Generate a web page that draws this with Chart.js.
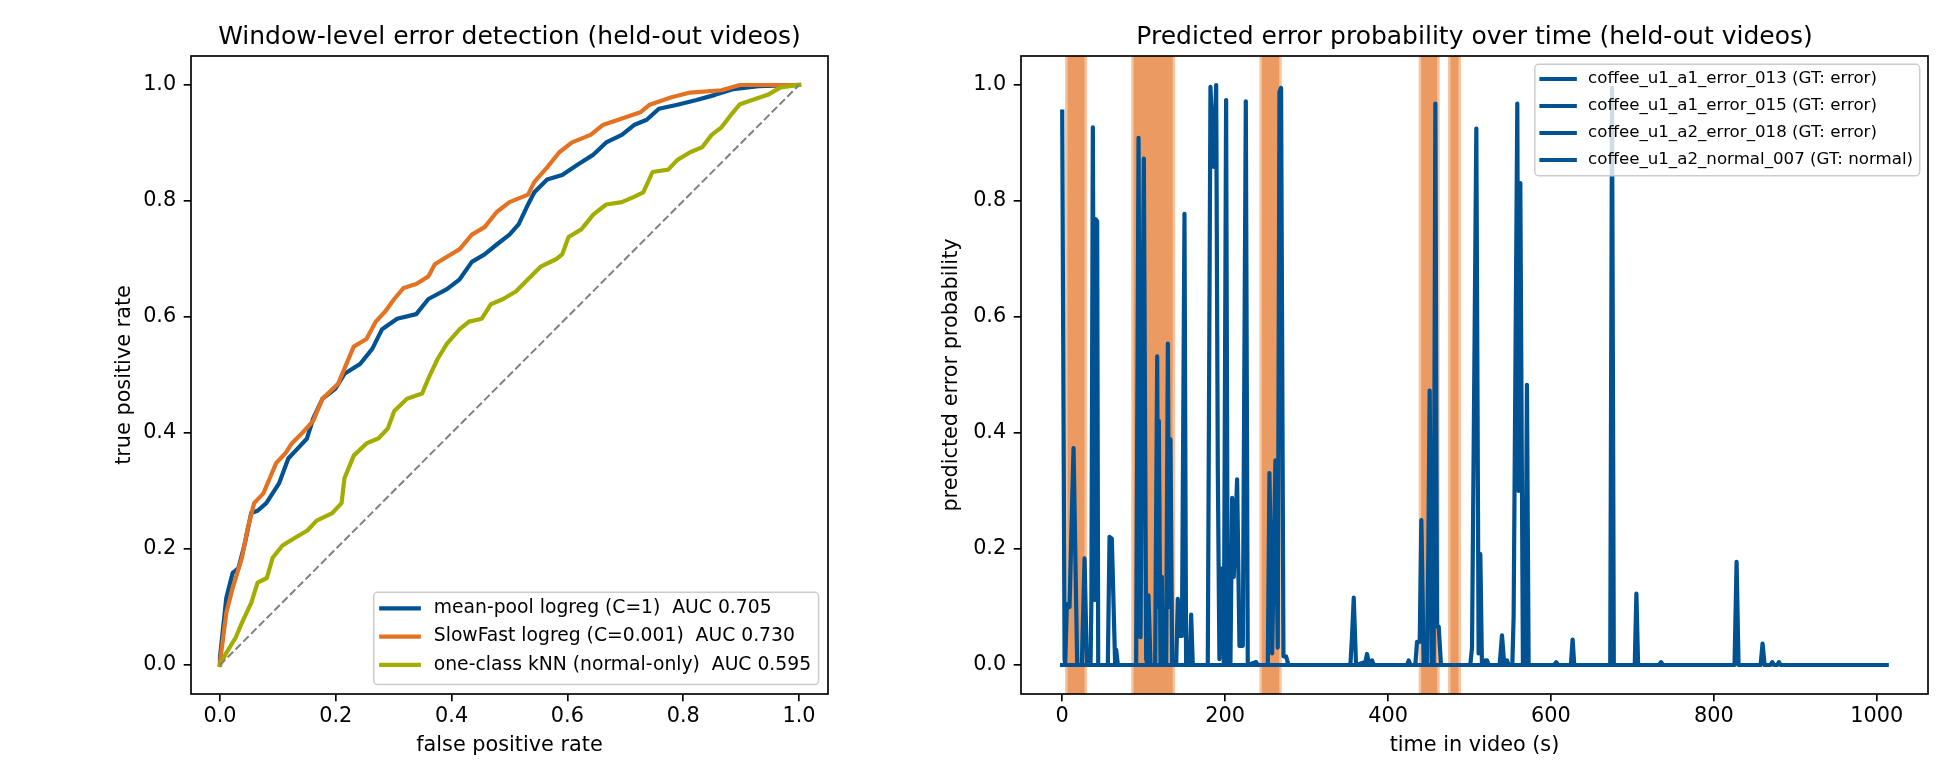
<!DOCTYPE html>
<html>
<head>
<meta charset="utf-8">
<script src="https://cdn.jsdelivr.net/npm/chart.js@4.4.1/dist/chart.umd.min.js"></script>
<style>
  html, body { margin: 0; padding: 0; background: #fff; }
  body { width: 1950px; height: 780px; position: relative; overflow: hidden; }
  canvas { position: absolute; top: 0; }
  #roc { left: 0; }
  #prob { left: 900px; }
</style>
</head>
<body>
<canvas id="roc" width="900" height="780"></canvas>
<canvas id="prob" width="1050" height="780"></canvas>
<script>
// ---- ROC curves, [fpr, tpr] ----
const MEANPOOL_ROC = [[0,0],[0,0.013],[0.011,0.116],[0.022,0.159],[0.032,0.167],[0.043,0.21],[0.054,0.262],[0.065,0.266],[0.08,0.279],[0.102,0.313],[0.118,0.356],[0.134,0.373],[0.15,0.39],[0.161,0.425],[0.177,0.459],[0.199,0.476],[0.215,0.502],[0.242,0.519],[0.263,0.545],[0.28,0.579],[0.306,0.597],[0.339,0.605],[0.36,0.631],[0.392,0.648],[0.414,0.665],[0.435,0.695],[0.457,0.708],[0.478,0.725],[0.5,0.742],[0.516,0.76],[0.532,0.794],[0.543,0.815],[0.565,0.837],[0.591,0.845],[0.618,0.863],[0.645,0.88],[0.667,0.901],[0.694,0.914],[0.715,0.931],[0.737,0.94],[0.758,0.959],[0.79,0.966],[0.823,0.974],[0.855,0.983],[0.887,0.993],[0.93,0.998],[1,1]];
const SLOWFAST_ROC = [[0,0],[0,0.004],[0.011,0.09],[0.022,0.133],[0.038,0.185],[0.048,0.236],[0.059,0.279],[0.075,0.296],[0.086,0.322],[0.097,0.348],[0.113,0.365],[0.124,0.382],[0.145,0.403],[0.161,0.421],[0.177,0.459],[0.204,0.485],[0.215,0.511],[0.231,0.549],[0.253,0.562],[0.269,0.592],[0.285,0.609],[0.301,0.631],[0.317,0.65],[0.339,0.657],[0.36,0.67],[0.371,0.691],[0.392,0.704],[0.414,0.717],[0.435,0.742],[0.457,0.755],[0.478,0.781],[0.5,0.798],[0.532,0.811],[0.543,0.833],[0.565,0.858],[0.586,0.884],[0.608,0.901],[0.64,0.914],[0.661,0.931],[0.688,0.94],[0.726,0.953],[0.742,0.966],[0.78,0.979],[0.812,0.987],[0.866,0.991],[0.898,1],[1,1]];
const KNN_ROC = [[0,0],[0.011,0.021],[0.027,0.047],[0.038,0.073],[0.054,0.107],[0.065,0.142],[0.081,0.15],[0.091,0.185],[0.108,0.206],[0.129,0.219],[0.151,0.232],[0.167,0.249],[0.194,0.262],[0.21,0.279],[0.215,0.322],[0.231,0.361],[0.253,0.382],[0.274,0.391],[0.29,0.408],[0.301,0.438],[0.323,0.459],[0.349,0.468],[0.36,0.494],[0.376,0.528],[0.392,0.554],[0.414,0.579],[0.43,0.592],[0.452,0.597],[0.468,0.622],[0.489,0.631],[0.511,0.644],[0.532,0.665],[0.554,0.687],[0.581,0.7],[0.591,0.708],[0.602,0.738],[0.624,0.751],[0.645,0.777],[0.667,0.794],[0.694,0.798],[0.715,0.807],[0.731,0.815],[0.747,0.85],[0.774,0.854],[0.79,0.871],[0.812,0.884],[0.833,0.893],[0.849,0.914],[0.866,0.927],[0.882,0.948],[0.898,0.967],[0.919,0.974],[0.946,0.983],[0.968,0.996],[1,1]];
const CHANCE = [[0,0],[1,1]];
const ROC_LABELS = ['mean-pool logreg (C=1)  AUC 0.705', 'SlowFast logreg (C=0.001)  AUC 0.730', 'one-class kNN (normal-only)  AUC 0.595'];
const RATE_TICKS = [0, 0.2, 0.4, 0.6, 0.8, 1.0];

// ---- per-video error probability, [seconds, probability] ----
const VIDEO_013 = [[0,0.954],[2.9,0.01],[3.7,0],[5.7,0.105],[9.0,0.1],[13.9,0.374],[18.4,0],[24.1,0],[27.4,0.184],[30.3,0],[34.8,0],[35.8,0.11],[37.6,0.927],[39.7,0.112],[40.9,0.769],[42.9,0.765],[44.2,0],[56.0,0],[58.1,0.221],[60.9,0.218],[65.0,0],[66.3,0.026],[68.3,0],[90.8,0],[93.7,0.909],[96.1,0.048],[100.2,0.873],[103.1,0.01],[104.5,0],[105.9,0.12],[108.4,0],[114.1,0],[116.6,0.532],[117.8,0.1],[118.6,0.421],[120.7,0],[122.3,0.152],[123.5,0],[127.6,0],[129.7,0.554],[131.3,0.1],[132.9,0.389],[135.0,0],[139.9,0],[141.9,0.114],[143.5,0.05],[145.2,0.084],[147.0,0.05],[150.1,0.778],[152.1,0],[156.2,0],[158.3,0.087],[160.3,0],[300,0]];
const VIDEO_015 = [[0,0],[178.7,0],[182.0,0.997],[185.7,0.859],[189.0,1.0],[191.0,0.342],[193.0,0.01],[194.3,0.166],[197.1,0.166],[198.4,0],[201.2,0.974],[203.3,0],[206.5,0],[208.6,0.288],[210.6,0.152],[214.7,0.32],[217.6,0.033],[221.7,0.033],[225.4,0.972],[227.8,0],[238.0,0.005],[240,0],[252.4,0],[254.4,0.331],[257.7,0.02],[261.8,0.353],[264.6,0.03],[266.7,0.988],[268.7,0.995],[271.6,0.015],[274.8,0.015],[277.7,0],[353.8,0],[355.8,0.05],[357.9,0.116],[360.7,0],[372.2,0.005],[374.2,0.019],[377.1,0],[380.4,0.008],[382.4,0],[423.3,0],[425.4,0.008],[427.4,0],[433.5,0],[435.6,0.04],[438.9,0.04],[440.9,0.25],[443.8,0],[447.9,0],[449.5,0.2],[451.1,0.473],[454.0,0],[456.0,0],[458.1,0.968],[460.1,0.066],[462.2,0.066],[465.0,0],[501.0,0],[503.1,0.03],[508.4,0.925],[511.2,0.02],[513.3,0.191],[515.3,0],[519.4,0.008],[521.5,0.008],[523.5,0],[537.0,0],[539.9,0.051],[542.7,0],[546.0,0.008],[548.1,0],[552.6,0],[554.2,0.084],[558.7,0.968],[560.3,0.3],[562.4,0.831],[565.6,0],[568.5,0],[570.5,0.483],[572.6,0],[590,0]];
const VIDEO_018 = [[0,0],[604.0,0],[606.5,0.005],[609.0,0],[624.5,0],[626.6,0.044],[628.6,0],[672.8,0],[675.0,0.995],[677.2,0],[702.9,0],[704.9,0.123],[707.0,0],[732.4,0],[735.3,0.005],[737.3,0],[760,0]];
const VIDEO_007 = [[0,0],[825.4,0],[827.9,0.178],[830.3,0],[857.4,0],[859.8,0.037],[862.3,0],[869.7,0],[871.7,0.005],[873.8,0],[877.9,0],[879.9,0.005],[882.0,0],[1012.3,0]];
const VIDEO_LABELS = ['coffee_u1_a1_error_013 (GT: error)', 'coffee_u1_a1_error_015 (GT: error)', 'coffee_u1_a2_error_018 (GT: error)', 'coffee_u1_a2_normal_007 (GT: normal)'];
const ERROR_SPANS = [[3.5,30.5],[84.7,138.7],[242.1,269.5],[437.6,463.4],[473.6,489.6]];
const TIME_TICKS = [0, 200, 400, 600, 800, 1000];

const BLUE = '#005293', ORANGE = '#E37222', GREEN = '#A2AD00';
const FS = 20.8;

Chart.defaults.font.family = 'DejaVu Sans';
Chart.defaults.color = '#000';

const pts = arr => arr.map(([x, y]) => ({x, y}));

// matplotlib-like pieces
const frame = {
  id: 'frame',
  afterDatasetsDraw(chart) {
    const {ctx, chartArea: a} = chart;
    ctx.save();
    ctx.strokeStyle = '#000';
    ctx.lineWidth = 1.67;
    ctx.strokeRect(a.left, a.top, a.right - a.left, a.bottom - a.top);
    ctx.restore();
  }
};

const axTitle = {
  id: 'axTitle',
  afterDraw(chart, args, o) {
    const {ctx, chartArea: a} = chart;
    ctx.save();
    ctx.font = o.size + 'px "DejaVu Sans"';
    ctx.fillStyle = '#000';
    ctx.textAlign = 'center';
    ctx.textBaseline = 'alphabetic';
    ctx.fillText(o.text, (a.left + a.right) / 2, a.top - o.gap);
    ctx.restore();
  }
};

const gtSpans = {
  id: 'gtSpans',
  beforeDatasetsDraw(chart, args, o) {
    const {ctx, chartArea: a, scales: {x}} = chart;
    ctx.save();
    ctx.beginPath();
    ctx.rect(a.left, a.top, a.right - a.left, a.bottom - a.top);
    ctx.clip();
    o.spans.forEach(([s, e]) => {
      const x0 = x.getPixelForValue(s), x1 = x.getPixelForValue(e);
      ctx.fillStyle = o.edge;
      ctx.fillRect(x0, a.top, x1 - x0, a.bottom - a.top);
      ctx.fillStyle = o.core;
      ctx.fillRect(x0 + o.inset, a.top, x1 - x0 - 2 * o.inset, a.bottom - a.top);
    });
    ctx.restore();
  }
};

const mplLegend = {
  id: 'mplLegend',
  afterDraw(chart, args, o) {
    const {ctx, chartArea: a} = chart;
    const items = chart.data.datasets.filter(d => d.label);
    ctx.save();
    ctx.font = o.fontSize + 'px "DejaVu Sans"';
    const textW = Math.max(...items.map(d => ctx.measureText(d.label).width));
    const w = 2 * o.borderPad + o.handleLen + o.textPad + textW;
    const h = o.padTop + (items.length - 1) * o.rowGap + o.padBottom;
    const x = a.right - o.inset - w;
    const y = o.loc === 'lower right' ? a.bottom - o.inset - h : a.top + o.inset;
    const r = 4;
    ctx.beginPath();
    ctx.moveTo(x + r, y);
    ctx.lineTo(x + w - r, y);
    ctx.arcTo(x + w, y, x + w, y + r, r);
    ctx.lineTo(x + w, y + h - r);
    ctx.arcTo(x + w, y + h, x + w - r, y + h, r);
    ctx.lineTo(x + r, y + h);
    ctx.arcTo(x, y + h, x, y + h - r, r);
    ctx.lineTo(x, y + r);
    ctx.arcTo(x, y, x + r, y, r);
    ctx.closePath();
    ctx.fillStyle = 'rgba(255,255,255,0.8)';
    ctx.fill();
    ctx.strokeStyle = '#cccccc';
    ctx.lineWidth = 1.5;
    ctx.stroke();
    items.forEach((d, i) => {
      const cy = y + o.padTop + i * o.rowGap;
      ctx.beginPath();
      ctx.moveTo(x + o.borderPad, cy);
      ctx.lineTo(x + o.borderPad + o.handleLen, cy);
      ctx.strokeStyle = d.borderColor;
      ctx.lineWidth = d.borderWidth;
      ctx.lineCap = 'square';
      ctx.stroke();
      ctx.fillStyle = '#000';
      ctx.textAlign = 'left';
      ctx.textBaseline = 'middle';
      ctx.fillText(d.label, x + o.borderPad + o.handleLen + o.textPad, cy);
    });
    ctx.restore();
  }
};

function axis(opts) {
  const horizontal = opts.position === 'bottom';
  return {
    type: 'linear',
    position: opts.position,
    min: opts.min,
    max: opts.max,
    afterBuildTicks: s => { s.ticks = opts.ticks.map(v => ({value: v})); },
    afterFit: s => { if (horizontal) s.height = opts.size; else s.width = opts.size; },
    ticks: {
      font: {size: FS},
      padding: horizontal ? 3 : 7.5,
      autoSkip: false,
      maxRotation: 0,
      callback: opts.format
    },
    grid: {drawOnChartArea: false, drawTicks: true, tickLength: 7.3, color: '#000', lineWidth: 1.67},
    border: {display: false},
    title: {
      display: true,
      text: opts.title,
      font: {size: FS},
      padding: horizontal ? {top: 0, bottom: opts.titlePad} : {top: opts.titlePad, bottom: 0}
    }
  };
}

const line = (data, label, color, order) => ({
  label, data: pts(data), borderColor: color, borderWidth: 4.2,
  pointRadius: 0, borderJoinStyle: 'round', borderCapStyle: 'square', fill: false, order
});

new Chart(document.getElementById('roc'), {
  type: 'line',
  data: {
    datasets: [
      line(MEANPOOL_ROC, ROC_LABELS[0], BLUE, 4),
      line(SLOWFAST_ROC, ROC_LABELS[1], ORANGE, 3),
      line(KNN_ROC, ROC_LABELS[2], GREEN, 2),
      {data: pts(CHANCE), borderColor: '#808080', borderWidth: 2, borderDash: [7.7, 3.3], pointRadius: 0, fill: false, order: 1}
    ]
  },
  options: {
    responsive: false,
    animation: false,
    devicePixelRatio: 1,
    layout: {padding: {left: 95, right: 72, top: 56, bottom: 0}},
    scales: {
      x: axis({position: 'bottom', min: -0.05, max: 1.05, ticks: RATE_TICKS, size: 86, titlePad: 21.5, title: 'false positive rate', format: v => v.toFixed(1)}),
      y: axis({position: 'left', min: -0.05, max: 1.05, ticks: RATE_TICKS, size: 96, titlePad: 17, title: 'true positive rate', format: v => v.toFixed(1)})
    },
    plugins: {
      legend: {display: false},
      title: {display: false},
      tooltip: {enabled: false},
      axTitle: {text: 'Window-level error detection (held-out videos)', size: 25, gap: 12.5},
      mplLegend: {loc: 'lower right', fontSize: 18.75, borderPad: 7.5, handleLen: 37.5, textPad: 15, inset: 9.4, padTop: 16, rowGap: 28.3, padBottom: 19.7}
    }
  },
  plugins: [frame, axTitle, mplLegend]
});

new Chart(document.getElementById('prob'), {
  type: 'line',
  data: {
    datasets: [
      line(VIDEO_013, VIDEO_LABELS[0], BLUE, 1),
      line(VIDEO_015, VIDEO_LABELS[1], BLUE, 1),
      line(VIDEO_018, VIDEO_LABELS[2], BLUE, 1),
      line(VIDEO_007, VIDEO_LABELS[3], BLUE, 1)
    ]
  },
  options: {
    responsive: false,
    animation: false,
    devicePixelRatio: 1,
    layout: {padding: {left: 20, right: 22, top: 56, bottom: 0}},
    scales: {
      x: axis({position: 'bottom', min: -50.6, max: 1062.9, ticks: TIME_TICKS, size: 86, titlePad: 21.5, title: 'time in video (s)', format: v => String(v)}),
      y: axis({position: 'left', min: -0.05, max: 1.05, ticks: RATE_TICKS, size: 101, titlePad: 19, title: 'predicted error probability', format: v => v.toFixed(1)})
    },
    plugins: {
      legend: {display: false},
      title: {display: false},
      tooltip: {enabled: false},
      axTitle: {text: 'Predicted error probability over time (held-out videos)', size: 25, gap: 12.5},
      gtSpans: {spans: ERROR_SPANS, edge: 'rgba(227,114,34,0.42)', core: 'rgba(227,114,34,0.5)', inset: 2.5},
      mplLegend: {loc: 'upper right', fontSize: 16.67, borderPad: 6.67, handleLen: 33.3, textPad: 13.3, inset: 8.3, padTop: 14.7, rowGap: 27, padBottom: 15.7}
    }
  },
  plugins: [gtSpans, frame, axTitle, mplLegend]
});
</script>
</body>
</html>
